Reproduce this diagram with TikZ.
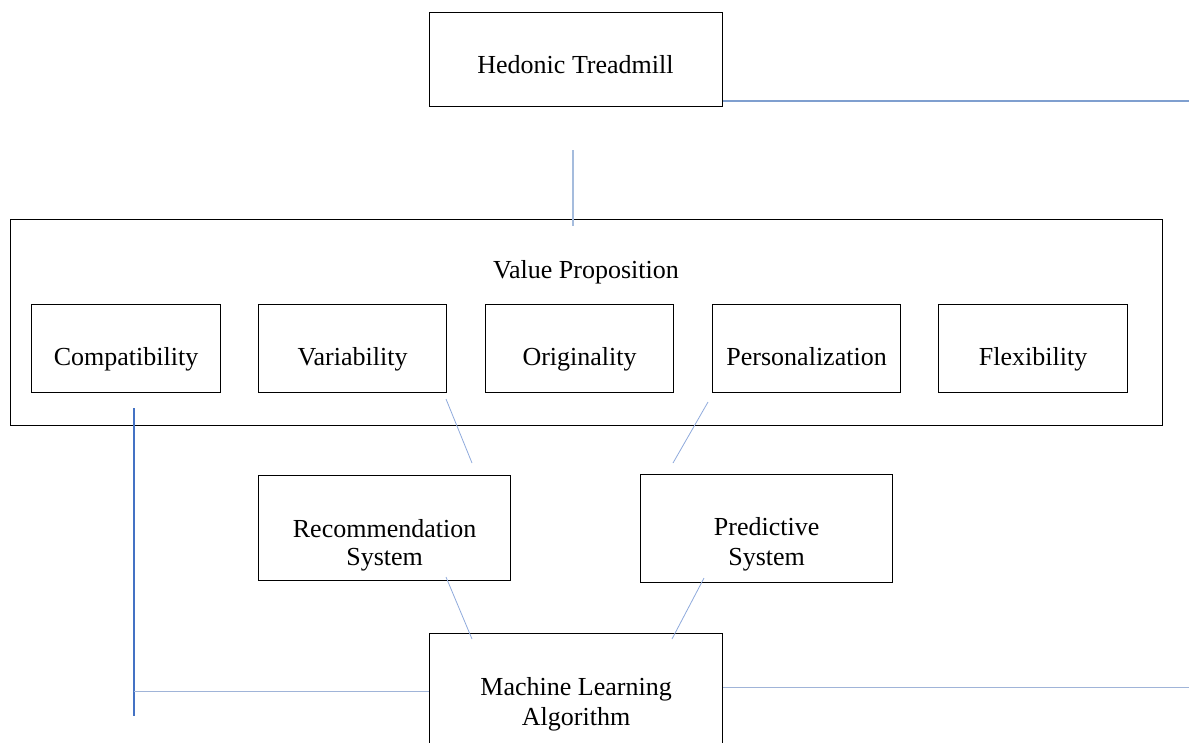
\documentclass[tikz,border=0pt]{standalone}
\usepackage{fontspec}
\setmainfont{Liberation Serif}
\definecolor{linkA}{RGB}{127,159,207}
\definecolor{linkB}{RGB}{68,114,196}
\definecolor{linkC}{RGB}{160,180,216}
\definecolor{linkD}{RGB}{143,170,220}
\tikzset{
  box/.style={draw=black, line width=1.2pt, inner sep=0pt, anchor=north west},
  lbl/.style={font=\fontsize{26}{29.5}\selectfont, anchor=base, inner sep=0pt, align=center},
  conA/.style={draw=linkA, line width=1.5pt},
  conB/.style={draw=linkB, line width=1.5pt},
  conC/.style={draw=linkC, line width=1pt},
  conD/.style={draw=linkD, line width=0.8pt},
}
\begin{document}
\begin{tikzpicture}[x={(1pt,0)}, y={(0,-1pt)}]
\useasboundingbox (0,0) rectangle (1189,742);
% boxes
\node[box, minimum width=293pt, minimum height=94pt] (hed) at (429,12) {};
\node[box, minimum width=1152pt, minimum height=206pt] (vp) at (10,219) {};
\node[box, minimum width=189pt, minimum height=88pt] (comp) at (31,304) {};
\node[box, minimum width=188pt, minimum height=88pt] (vari) at (258,304) {};
\node[box, minimum width=188pt, minimum height=88pt] (orig) at (485,304) {};
\node[box, minimum width=188pt, minimum height=88pt] (pers) at (712,304) {};
\node[box, minimum width=189pt, minimum height=88pt] (flex) at (938,304) {};
\node[box, minimum width=252pt, minimum height=105pt] (rec) at (258,475) {};
\node[box, minimum width=252pt, minimum height=108pt] (pred) at (640,474) {};
\node[box, minimum width=293pt, minimum height=140pt] (ml) at (429,633) {};
% labels
\node[lbl] (hedt) at (575.5,73) {Hedonic Treadmill};
\node[lbl] (vpt) at (586,278) {Value Proposition};
\node[lbl] (compt) at (comp.center |- 0,365) {Compatibility};
\node[lbl] (varit) at (vari.center |- 0,365) {Variability};
\node[lbl] (origt) at (orig.center |- 0,365) {Originality};
\node[lbl] (perst) at (pers.center |- 0,365) {Personalization};
\node[lbl] (flext) at (flex.center |- 0,365) {Flexibility};
\node[lbl] (rect) at (rec.center |- 0,537) {Recommendation};
\node[lbl] (rect2) at (rec.center |- 0,565.5) {System};
\node[lbl] (predt) at (pred.center |- 0,535.5) {Predictive};
\node[lbl] (predt2) at (pred.center |- 0,565) {System};
\node[lbl] (mlt) at (ml.center |- 0,695) {Machine Learning};
\node[lbl] (mlt2) at (ml.center |- 0,725) {Algorithm};
% free ends
\coordinate (hr) at (1189,101);
\coordinate (vt1) at (573,150);
\coordinate (vt2) at (573,226);
\coordinate (lv1) at (134,408);
\coordinate (lv2) at (134,716);
\coordinate (lh) at (134,691);
\coordinate (mr) at (1189,687);
\coordinate (d1a) at (446,399);
\coordinate (d1b) at (472,463);
\coordinate (d2a) at (708,402);
\coordinate (d2b) at (673,463);
\coordinate (d3a) at (446,577);
\coordinate (d3b) at (472,639);
\coordinate (d4a) at (704,578);
\coordinate (d4b) at (672,639);
% connectors
\draw[conA] (hed.east |- hr) -- (hr);
\draw[conA, draw=linkA!70] (vt1) -- (vt2);
\draw[conB] (lv1) -- (lv2);
\draw[conC] (lh) -- (ml.west |- lh);
\draw[conC] (ml.east |- mr) -- (mr);
\draw[conD] (d1a) -- (d1b);
\draw[conD] (d2a) -- (d2b);
\draw[conD] (d3a) -- (d3b);
\draw[conD] (d4a) -- (d4b);
\end{tikzpicture}
\end{document}
